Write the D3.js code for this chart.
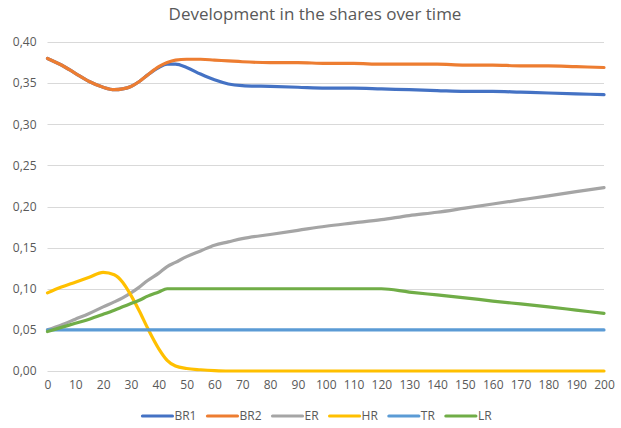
<!DOCTYPE html>
<html><head><meta charset="utf-8">
<script src="https://cdn.jsdelivr.net/npm/d3@7"></script>
<style>body{margin:0;background:#fff}svg{display:block}</style>
</head><body>
<svg id="c" width="621" height="428"></svg>
<script>
const title = "Development in the shares over time";
const xs = [0,5,10,15,20,24,27,30,33,36,40,43,46,50,55,60,65,70,80,90,100,110,120,130,140,150,160,170,180,190,200];
const br1 = [0.380,0.372,0.362,0.352,0.345,0.342,0.343,0.346,0.352,0.360,0.369,0.373,0.373,0.369,0.361,0.354,0.349,0.347,0.346,0.345,0.344,0.344,0.343,0.342,0.341,0.340,0.340,0.339,0.338,0.337,0.336];
const br2 = [0.380,0.372,0.362,0.352,0.345,0.342,0.343,0.346,0.352,0.360,0.370,0.375,0.378,0.379,0.379,0.378,0.377,0.376,0.375,0.375,0.374,0.374,0.373,0.373,0.373,0.372,0.372,0.371,0.371,0.370,0.369];
const er  = [0.050,0.056,0.063,0.070,0.078,0.084,0.089,0.095,0.102,0.110,0.119,0.127,0.132,0.139,0.146,0.153,0.157,0.161,0.166,0.171,0.176,0.180,0.184,0.189,0.193,0.198,0.203,0.208,0.213,0.218,0.223];
const hr  = [0.095,0.102,0.108,0.114,0.120,0.117,0.108,0.092,0.073,0.052,0.027,0.013,0.006,0.003,0.0015,0.0005,0,0,0,0,0,0,0,0,0,0,0,0,0,0,0];
const tr  = [0.05,0.05,0.05,0.05,0.05,0.05,0.05,0.05,0.05,0.05,0.05,0.05,0.05,0.05,0.05,0.05,0.05,0.05,0.05,0.05,0.05,0.05,0.05,0.05,0.05,0.05,0.05,0.05,0.05,0.05,0.05];
const lr  = [0.048,0.053,0.058,0.063,0.069,0.074,0.078,0.082,0.086,0.091,0.096,0.100,0.100,0.100,0.100,0.100,0.100,0.100,0.100,0.100,0.100,0.100,0.100,0.096,0.0925,0.089,0.085,0.0815,0.078,0.074,0.070];
const seriesNames = ["BR1","BR2","ER","HR","TR","LR"];
const seriesValues = [br1,br2,er,hr,tr,lr];
const seriesColors = ["#4472C4","#ED7D31","#A5A5A5","#FFC000","#5B9BD5","#70AD47"];
const yTicks = [0,0.05,0.10,0.15,0.20,0.25,0.30,0.35,0.40];
const xTicks = d3.range(0,201,10);

const svg = d3.select("#c");
const font = "'Open Sans', sans-serif";
const x = d3.scaleLinear().domain([0,200]).range([47.5,604]);
const y = d3.scaleLinear().domain([0,0.4]).range([371,42]);

svg.append("text").attr("x",315).attr("y",20).attr("text-anchor","middle")
  .attr("font-family",font).attr("font-size",17).attr("fill","#595959").text(title);

// grid
svg.append("g").selectAll("line").data(yTicks).join("line")
  .attr("x1",x(0)).attr("x2",x(200))
  .attr("y1",d=>Math.round(y(d))+0.5).attr("y2",d=>Math.round(y(d))+0.5)
  .attr("stroke","#d9d9d9").attr("stroke-width",1);

const fmt = d=>d3.format(".2f")(d).replace(".",",");
const yAxis = svg.append("g").attr("transform",`translate(${x(0)-11},0)`)
  .call(d3.axisLeft(y).tickValues(yTicks).tickFormat(fmt).tickSize(0).tickPadding(0));
yAxis.select(".domain").remove();
yAxis.selectAll("text").attr("font-family",font).attr("font-size",12).attr("fill","#595959");

const xAxis = svg.append("g").attr("transform",`translate(0,${y(0)+9})`)
  .call(d3.axisBottom(x).tickValues(xTicks).tickFormat(d3.format("d")).tickSize(0).tickPadding(0));
xAxis.select(".domain").remove();
xAxis.selectAll("text").attr("font-family",font).attr("font-size",12).attr("fill","#595959");

const line = d3.line().x((d,i)=>x(xs[i])).y(d=>y(d)).curve(d3.curveMonotoneX);
seriesValues.forEach((vals,k)=>{
  svg.append("path").attr("d",line(vals)).attr("fill","none")
    .attr("stroke",seriesColors[k]).attr("stroke-width",3.2)
    .attr("stroke-linejoin","round").attr("stroke-linecap","round");
});

// legend
const lg = svg.append("g");
let cx = 0;
const ly = 416;
seriesNames.forEach((n,k)=>{
  const g = lg.append("g").attr("transform",`translate(${cx},0)`);
  g.append("line").attr("x1",0).attr("x2",30).attr("y1",ly).attr("y2",ly)
    .attr("stroke",seriesColors[k]).attr("stroke-width",3.2).attr("stroke-linecap","round");
  const t = g.append("text").attr("x",32).attr("y",ly+4).attr("font-family",font)
    .attr("font-size",12).attr("fill","#595959").text(n);
  const w = t.node().getComputedTextLength();
  cx += 32 + w + 11;
});
const total = cx - 11;
lg.attr("transform",`translate(${317 - total/2},0)`);
</script>
</body></html>
